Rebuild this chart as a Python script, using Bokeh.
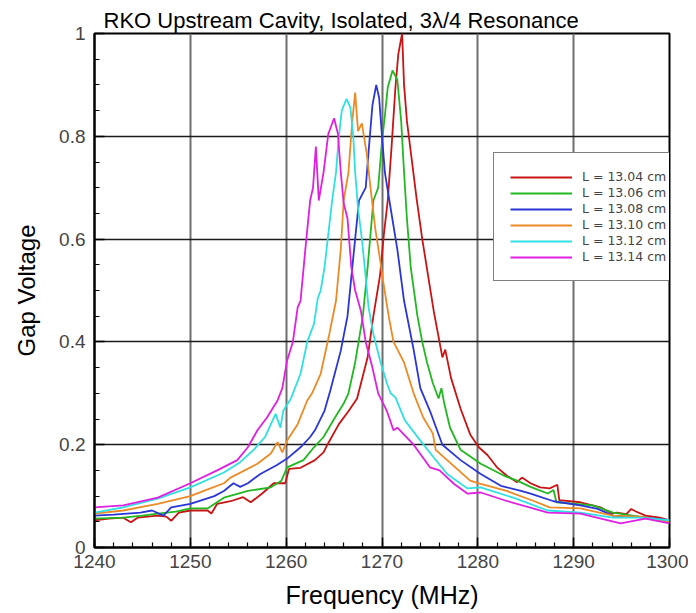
from bokeh.plotting import figure
from bokeh.models import Legend, LegendItem, Title, NumeralTickFormatter, FixedTicker
from bokeh.embed import file_html
from bokeh.resources import INLINE

title_text = "RKO Upstream Cavity, Isolated, 3\u03bb/4 Resonance"
x_label = "Frequency (MHz)"
y_label = "Gap Voltage"
x_ticks = [1240, 1250, 1260, 1270, 1280, 1290, 1300]
y_ticks = [0, 0.2, 0.4, 0.6, 0.8, 1.0]
labels = ["L = 13.04 cm", "L = 13.06 cm", "L = 13.08 cm", "L = 13.10 cm", "L = 13.12 cm", "L = 13.14 cm"]
colors = ["#c81414", "#22b822", "#2a36d6", "#ec8a26", "#30e0e0", "#e020e0"]

f_1304 = [1240.0, 1241.5, 1243.0, 1243.8, 1244.5, 1246.6, 1247.5, 1248.0, 1248.8, 1250.0, 1251.8, 1252.2,
          1252.8, 1254.2, 1255.5, 1256.3, 1257.5, 1258.7, 1259.9, 1260.3, 1261.5, 1262.0, 1263.0, 1263.9,
          1264.3, 1265.5, 1266.5, 1267.4, 1268.5, 1269.1, 1269.8, 1270.2, 1270.6, 1271.0, 1271.4, 1271.7,
          1272.1, 1272.3, 1272.6, 1273.0, 1273.6, 1274.2, 1274.8, 1275.4, 1276.0, 1276.3, 1276.6, 1277.2,
          1278.2, 1279.2, 1280.1, 1281.0, 1282.0, 1283.0, 1284.1, 1284.6, 1285.5, 1286.5, 1287.5, 1288.3,
          1288.5, 1290.7, 1292.8, 1294.0, 1294.5, 1295.5, 1296.0, 1296.5, 1297.5, 1299.0, 1300.0]
v_1304 = [0.053, 0.056, 0.058, 0.049, 0.058, 0.062, 0.060, 0.052, 0.068, 0.072, 0.072, 0.066,
          0.085, 0.090, 0.098, 0.088, 0.105, 0.125, 0.125, 0.153, 0.155, 0.160, 0.170, 0.185,
          0.200, 0.240, 0.265, 0.290, 0.370, 0.450, 0.530, 0.610, 0.675, 0.780, 0.895, 0.960,
          1.000, 0.900, 0.830, 0.770, 0.680, 0.600, 0.530, 0.460, 0.400, 0.370, 0.385, 0.330,
          0.270, 0.220, 0.195, 0.180, 0.156, 0.140, 0.127, 0.136, 0.125, 0.117, 0.115, 0.122,
          0.092, 0.088, 0.078, 0.066, 0.068, 0.065, 0.075, 0.070, 0.062, 0.058, 0.053]

f_1306 = [1240.0, 1243.0, 1245.0, 1246.6, 1248.5, 1250.0, 1251.8, 1253.5, 1255.0, 1256.0, 1258.4, 1259.5,
          1260.1, 1261.8, 1262.9, 1263.9, 1265.0, 1266.0, 1266.5, 1267.2, 1268.0, 1268.5, 1269.1, 1269.6,
          1270.0, 1270.3, 1270.6, 1271.1, 1271.6, 1272.0, 1272.3, 1272.6, 1273.0, 1273.7, 1274.2, 1274.7,
          1275.3, 1275.9, 1276.2, 1276.5, 1277.1, 1278.2, 1280.3, 1282.7, 1284.1, 1285.5, 1287.3, 1287.9,
          1288.2, 1292.0, 1294.1, 1297.5, 1300.0]
v_1306 = [0.056, 0.058, 0.062, 0.066, 0.070, 0.076, 0.076, 0.097, 0.105, 0.110, 0.117, 0.130,
          0.156, 0.170, 0.195, 0.215, 0.250, 0.280, 0.300, 0.360, 0.450, 0.545, 0.675, 0.700,
          0.790, 0.840, 0.895, 0.928, 0.910, 0.830, 0.730, 0.640, 0.545, 0.450, 0.400, 0.360,
          0.320, 0.290, 0.310, 0.280, 0.233, 0.190, 0.163, 0.140, 0.130, 0.118, 0.105, 0.112,
          0.088, 0.082, 0.068, 0.058, 0.049]

f_1308 = [1240.0, 1242.0, 1244.8, 1246.0, 1247.2, 1248.0, 1250.0, 1252.5, 1253.5, 1254.5, 1255.2, 1256.0,
          1257.3, 1259.0, 1260.1, 1261.5, 1262.5, 1263.0, 1264.0, 1264.6, 1265.7, 1266.4, 1266.9, 1267.6,
          1268.3, 1268.6, 1269.0, 1269.4, 1269.7, 1270.0, 1270.3, 1270.9, 1271.6, 1272.3, 1273.3, 1274.0,
          1275.0, 1276.3, 1278.2, 1280.3, 1282.4, 1284.5, 1285.5, 1287.9, 1290.7, 1292.5, 1294.1, 1297.5,
          1300.0]
v_1308 = [0.062, 0.064, 0.068, 0.072, 0.062, 0.078, 0.085, 0.100, 0.110, 0.125, 0.118, 0.125,
          0.143, 0.160, 0.173, 0.195, 0.215, 0.228, 0.266, 0.305, 0.383, 0.450, 0.545, 0.675,
          0.700, 0.770, 0.860, 0.900, 0.875, 0.800, 0.730, 0.660, 0.580, 0.480, 0.385, 0.310,
          0.266, 0.200, 0.170, 0.143, 0.120, 0.110, 0.105, 0.090, 0.082, 0.075, 0.062, 0.058,
          0.053]

f_1310 = [1240.0, 1243.0, 1246.6, 1250.0, 1251.4, 1253.5, 1254.2, 1257.0, 1258.4, 1259.1, 1259.6, 1260.1,
          1261.2, 1262.2, 1262.7, 1263.6, 1264.5, 1265.2, 1265.7, 1266.0, 1266.5, 1266.9, 1267.2, 1267.5,
          1267.9, 1268.4, 1268.8, 1269.3, 1269.8, 1270.1, 1270.7, 1271.2, 1272.3, 1273.3, 1274.3, 1275.3,
          1275.6, 1276.8, 1279.2, 1280.3, 1283.0, 1285.9, 1287.5, 1290.7, 1294.1, 1297.0, 1300.0]
v_1310 = [0.066, 0.072, 0.085, 0.100, 0.110, 0.125, 0.136, 0.163, 0.183, 0.205, 0.185, 0.208,
          0.240, 0.286, 0.300, 0.338, 0.415, 0.480, 0.580, 0.675, 0.730, 0.830, 0.885, 0.810,
          0.825, 0.767, 0.700, 0.620, 0.560, 0.520, 0.450, 0.400, 0.360, 0.300, 0.253, 0.222,
          0.190, 0.170, 0.130, 0.124, 0.110, 0.090, 0.078, 0.076, 0.062, 0.060, 0.049]

f_1312 = [1240.0, 1243.0, 1246.6, 1250.0, 1253.5, 1255.2, 1256.6, 1257.8, 1258.9, 1259.4, 1259.7, 1260.5,
          1261.5, 1262.2, 1262.9, 1263.3, 1263.6, 1264.0, 1264.4, 1264.8, 1265.2, 1265.5, 1265.8, 1266.3,
          1266.7, 1267.0, 1267.2, 1267.5, 1267.9, 1268.2, 1268.6, 1269.1, 1269.8, 1270.5, 1270.9, 1271.4,
          1272.4, 1274.0, 1275.4, 1276.8, 1278.9, 1280.3, 1283.7, 1287.3, 1290.7, 1294.1, 1297.0, 1300.0]
v_1312 = [0.068, 0.078, 0.095, 0.117, 0.146, 0.166, 0.190, 0.215, 0.260, 0.233, 0.266, 0.290,
          0.338, 0.400, 0.435, 0.485, 0.500, 0.545, 0.610, 0.675, 0.730, 0.800, 0.850, 0.873,
          0.856, 0.800, 0.730, 0.660, 0.600, 0.545, 0.467, 0.415, 0.364, 0.320, 0.300, 0.292,
          0.247, 0.208, 0.175, 0.143, 0.115, 0.117, 0.097, 0.072, 0.068, 0.058, 0.058, 0.053]

f_1314 = [1240.0, 1243.0, 1246.6, 1250.0, 1252.8, 1254.9, 1256.0, 1257.0, 1258.0, 1259.1, 1259.6, 1260.1,
          1260.7, 1261.2, 1261.5, 1262.0, 1262.5, 1262.8, 1263.1, 1263.4, 1263.9, 1264.4, 1265.0, 1265.4,
          1265.7, 1266.0, 1266.4, 1266.8, 1267.2, 1267.8, 1268.3, 1269.0, 1269.6, 1270.5, 1271.2, 1271.6,
          1273.3, 1275.0, 1276.0, 1277.5, 1278.9, 1280.3, 1283.1, 1287.3, 1290.7, 1294.9, 1297.5, 1300.0]
v_1314 = [0.078, 0.082, 0.097, 0.125, 0.150, 0.170, 0.195, 0.228, 0.253, 0.286, 0.310, 0.364,
          0.400, 0.467, 0.480, 0.580, 0.675, 0.700, 0.780, 0.675, 0.730, 0.805, 0.835, 0.805,
          0.730, 0.670, 0.640, 0.545, 0.500, 0.460, 0.400, 0.350, 0.300, 0.266, 0.228, 0.233,
          0.200, 0.156, 0.150, 0.124, 0.105, 0.107, 0.090, 0.068, 0.066, 0.047, 0.056, 0.047]

series = [(f_1304, v_1304), (f_1306, v_1306), (f_1308, v_1308),
          (f_1310, v_1310), (f_1312, v_1312), (f_1314, v_1314)]

FONT = "Liberation Sans"

p = figure(width=688, height=612, x_range=(1240, 1300), y_range=(0, 1),
           output_backend="svg", toolbar_location=None, title=None,
           min_border_left=94, min_border_right=19, min_border_top=33, min_border_bottom=65)
p.background_fill_color = "white"
p.border_fill_color = "white"
p.outline_line_color = "black"
p.outline_line_width = 2

p.xaxis.ticker = FixedTicker(ticks=x_ticks, minor_ticks=list(range(1240, 1301, 2)))
p.yaxis.ticker = FixedTicker(ticks=y_ticks, minor_ticks=[round(0.05 * i, 2) for i in range(21)])
p.yaxis.formatter = NumeralTickFormatter(format="0.[0]")

for ax in (p.xaxis, p.yaxis):
    ax.axis_line_color = "black"
    ax.axis_line_width = 2
    ax.major_tick_in = 10
    ax.major_tick_out = 0
    ax.minor_tick_in = 5
    ax.minor_tick_out = 0
    ax.major_tick_line_color = "black"
    ax.major_tick_line_width = 1.5
    ax.minor_tick_line_color = "black"
    ax.minor_tick_line_width = 1.2
    ax.major_label_text_font = FONT
    ax.major_label_text_font_size = "19px"
    ax.major_label_text_color = "#444444"
    ax.axis_label_text_font = FONT
    ax.axis_label_text_font_style = "normal"
    ax.axis_label_text_color = "black"

p.xaxis.axis_label = x_label
p.yaxis.axis_label = y_label
p.xaxis.axis_label_text_font_size = "25px"
p.yaxis.axis_label_text_font_size = "24px"
p.xaxis.major_label_standoff = 7
p.yaxis.major_label_standoff = 9
p.xaxis.axis_label_standoff = 10
p.yaxis.axis_label_standoff = 16

p.xgrid.grid_line_color = "#6e6e6e"
p.xgrid.grid_line_width = 2
p.ygrid.grid_line_color = "#1a1a1a"
p.ygrid.grid_line_width = 1.5

renderers = []
for (fx, vy), c in zip(series, colors):
    r = p.line(fx, vy, line_color=c, line_width=1.8)
    renderers.append(r)

legend = Legend(items=[LegendItem(label=l, renderers=[r]) for l, r in zip(labels, renderers)],
                location=(399, 266), margin=0, padding=16, spacing=1,
                glyph_width=62, glyph_height=12, label_height=12, label_standoff=10,
                label_text_font="DejaVu Sans", label_text_font_size="12.5px",
                border_line_color="black", border_line_width=1.5,
                background_fill_color="white", background_fill_alpha=1)
p.add_layout(legend)

p.add_layout(Title(text=title_text, align="left", offset=9, standoff=2,
                   text_font=FONT, text_font_size="22px", text_font_style="normal",
                   text_color="black"), "above")

open("out.html", "w").write(file_html(p, INLINE))
